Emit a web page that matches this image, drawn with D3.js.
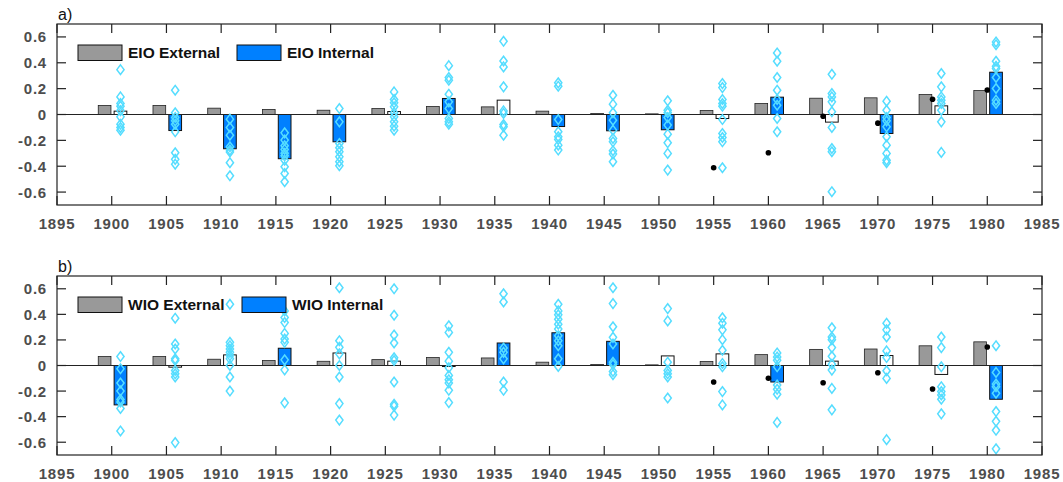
<!DOCTYPE html>
<html>
<head>
<meta charset="utf-8">
<script src="https://cdn.jsdelivr.net/npm/d3@7"></script>
<style>
  body { margin: 0; background: #fff; }
  svg { display: block; font-family: "Liberation Sans", Arial, sans-serif; }
</style>
</head>
<body>
<div id="chart"></div>
<script>
// Data
const years = [1900, 1905, 1910, 1915, 1920, 1925, 1930, 1935, 1940, 1945, 1950, 1955, 1960, 1965, 1970, 1975, 1980];
const obsYears = [1955, 1960, 1965, 1970, 1975, 1980];
const yTicks = [-0.6, -0.4, -0.2, 0, 0.2, 0.4, 0.6];
const xTicks = [1895, 1900, 1905, 1910, 1915, 1920, 1925, 1930, 1935, 1940, 1945, 1950, 1955, 1960, 1965, 1970, 1975, 1980, 1985];

// panel a) EIO
const eioExternal = [0.07, 0.07, 0.049, 0.039, 0.033, 0.046, 0.062, 0.059, 0.026, 0.008, 0.005, 0.031, 0.085, 0.126, 0.129, 0.154, 0.185];
const eioInternal = [0.026, -0.124, -0.265, -0.342, -0.211, 0.023, 0.124, 0.111, -0.093, -0.126, -0.118, -0.031, 0.134, -0.059, -0.147, 0.067, 0.327];
const eioSignificant = [false, true, true, true, true, false, true, false, true, true, true, false, true, false, true, false, true];
const eioObserved = [-0.412, -0.296, -0.013, -0.067, 0.118, 0.19];
const eioMembers = [
  [0.347, 0.136, 0.085, 0.064, 0.03, -0.018, -0.075, -0.1, -0.121],
  [0.188, 0.013, -0.023, -0.049, -0.075, -0.134, -0.296, -0.347, -0.384],
  [-0.036, -0.1, -0.16, -0.25, -0.275, -0.29, -0.373, -0.474],
  [-0.142, -0.198, -0.242, -0.27, -0.3, -0.32, -0.353, -0.404, -0.456, -0.52],
  [0.046, -0.057, -0.224, -0.257, -0.288, -0.327, -0.365, -0.396],
  [0.175, 0.116, 0.09, 0.059, 0.013, -0.018, -0.057, -0.09, -0.121],
  [0.378, 0.286, 0.265, 0.157, 0.098, 0.046, -0.031, -0.057, -0.075],
  [0.566, 0.414, 0.368, 0.214, 0.028, 0.008, -0.077, -0.095, -0.16],
  [0.245, 0.219, -0.039, -0.134, -0.172, -0.193, -0.237, -0.275],
  [0.149, 0.08, 0.013, -0.044, -0.121, -0.185, -0.211, -0.28, -0.306, -0.365],
  [0.106, 0.033, 0.013, -0.023, -0.082, -0.152, -0.219, -0.301, -0.43],
  [0.239, 0.208, 0.116, 0.085, 0.064, -0.039, -0.147, -0.178, -0.211, -0.412],
  [0.476, 0.412, 0.286, 0.188, 0.116, 0.072, -0.031, -0.134],
  [0.311, 0.162, 0.136, 0.098, 0.021, -0.1, -0.263, -0.288, -0.597],
  [0.103, 0.033, -0.023, -0.049, -0.095, -0.172, -0.237, -0.301, -0.353, -0.373],
  [0.317, 0.214, 0.136, 0.111, 0.085, 0.033, -0.057, -0.293],
  [0.561, 0.54, 0.412, 0.373, 0.355, 0.286, 0.201, 0.111, 0.085]
];

// panel b) WIO
const wioExternal = [0.07, 0.07, 0.049, 0.039, 0.033, 0.046, 0.062, 0.059, 0.026, 0.008, 0.005, 0.031, 0.085, 0.126, 0.129, 0.154, 0.185];
const wioInternal = [-0.308, -0.013, 0.083, 0.135, 0.098, 0.034, -0.008, 0.176, 0.256, 0.189, 0.075, 0.091, -0.129, 0.034, 0.078, -0.07, -0.264];
const wioSignificant = [true, false, false, true, false, false, false, true, true, true, false, false, true, false, false, false, true];
const wioObserved = [-0.129, -0.1, -0.135, -0.057, -0.184, 0.145];
const wioMembers = [
  [0.07, -0.026, -0.137, -0.2, -0.266, -0.285, -0.336, -0.512],
  [0.37, 0.168, 0.129, 0.052, 0.039, -0.039, -0.065, -0.09, -0.603],
  [0.479, 0.181, 0.155, 0.129, 0.103, 0.078, 0.052, 0, -0.09, -0.2],
  [0.427, 0.375, 0.336, 0.251, 0.207, 0.181, 0.044, -0.034, -0.292],
  [0.608, 0.194, 0.142, 0.091, 0, -0.09, -0.298, -0.427],
  [0.6, 0.393, 0.238, 0.176, 0.06, 0.039, -0.129, -0.303, -0.318, -0.388],
  [0.31, 0.259, 0.103, 0.034, -0.018, -0.078, -0.111, -0.137, -0.194, -0.29],
  [0.561, 0.497, 0.137, 0.103, 0.052, -0.129, -0.194],
  [0.479, 0.427, 0.396, 0.362, 0.323, 0.285, 0.233, 0.194, 0.155, 0.052, -0.008],
  [0.608, 0.484, 0.303, 0.22, 0.168, 0.026, 0.008, -0.047, -0.072],
  [0.445, 0.349, 0.026, -0.039, -0.065, -0.09, -0.254],
  [0.373, 0.331, 0.279, 0.202, 0.119, 0.016, -0.01, -0.204, -0.308],
  [0.098, 0.067, 0.041, -0.01, -0.153, -0.186, -0.225, -0.445],
  [0.295, 0.223, 0.202, 0.14, 0.072, 0.01, -0.036, -0.179, -0.347],
  [0.331, 0.279, 0.223, 0.114, 0.062, -0.041, -0.101, -0.58],
  [0.223, 0.14, -0.01, -0.166, -0.204, -0.23, -0.264, -0.378],
  [0.155, -0.054, -0.145, -0.166, -0.217, -0.36, -0.437, -0.507, -0.652]
];

(function () {
    const W = 1063, H = 482;
    const left = 57, right = 1042;

    const colors = {
        external: "#999999",
        internal: "#0080ff",
        member: "#55ddff",
        tickText: "#4d4d4d"
    };

    const svg = d3.select("#chart").append("svg")
        .attr("width", W)
        .attr("height", H);

    const x = d3.scaleLinear().domain([1895, 1985]).range([left, right]);
    const barW = 1.16; // in years

    function drawPanel(cfg) {
        const y = d3.scaleLinear().domain([-0.7, 0.7]).range([cfg.bottom, cfg.top]);
        const g = svg.append("g");

        // external bars (left of the tick)
        g.selectAll(".ext")
            .data(years.map((yr, i) => ({ yr, v: cfg.external[i] })))
            .enter().append("rect")
            .attr("x", d => x(d.yr - 0.65 - barW / 2))
            .attr("width", d => x(d.yr + barW) - x(d.yr))
            .attr("y", d => y(Math.max(0, d.v)))
            .attr("height", d => Math.abs(y(d.v) - y(0)))
            .attr("fill", colors.external)
            .attr("stroke", "#222")
            .attr("stroke-width", 0.8);

        // internal bars (right of the tick), white when not significant
        g.selectAll(".int")
            .data(years.map((yr, i) => ({ yr, v: cfg.internal[i], s: cfg.signif[i] })))
            .enter().append("rect")
            .attr("x", d => x(d.yr + 0.8 - barW / 2))
            .attr("width", d => x(d.yr + barW) - x(d.yr))
            .attr("y", d => y(Math.max(0, d.v)))
            .attr("height", d => Math.abs(y(d.v) - y(0)))
            .attr("fill", d => d.s ? colors.internal : "#fff")
            .attr("stroke", "#111")
            .attr("stroke-width", 1);

        // zero line
        g.append("line")
            .attr("x1", left).attr("x2", right)
            .attr("y1", y(0)).attr("y2", y(0))
            .attr("stroke", "#222")
            .attr("stroke-width", 1);

        // ensemble members as open diamonds
        const members = [];
        years.forEach((yr, i) => cfg.members[i].forEach(v => members.push({ yr, v })));
        g.selectAll(".mem")
            .data(members)
            .enter().append("path")
            .attr("d", "M0,-4.8L3.6,0L0,4.8L-3.6,0Z")
            .attr("transform", d => `translate(${x(d.yr + 0.8)},${y(d.v)})`)
            .attr("fill", "none")
            .attr("stroke", colors.member)
            .attr("stroke-width", 1.5);

        // observed values
        g.selectAll(".obs")
            .data(obsYears.map((yr, i) => ({ yr, v: cfg.observed[i] })))
            .enter().append("circle")
            .attr("cx", d => x(d.yr))
            .attr("cy", d => y(d.v))
            .attr("r", 2.8)
            .attr("fill", "#000");

        // axes box with inward ticks
        const tickLen = 9;
        const axisG = g.append("g").attr("stroke", "#222").attr("stroke-width", 1.2);
        axisG.append("rect")
            .attr("x", left).attr("y", cfg.top)
            .attr("width", right - left).attr("height", cfg.bottom - cfg.top)
            .attr("fill", "none");
        xTicks.forEach(t => {
            axisG.append("line").attr("x1", x(t)).attr("x2", x(t))
                .attr("y1", cfg.bottom).attr("y2", cfg.bottom - tickLen);
            axisG.append("line").attr("x1", x(t)).attr("x2", x(t))
                .attr("y1", cfg.top).attr("y2", cfg.top + tickLen);
        });
        yTicks.forEach(t => {
            axisG.append("line").attr("x1", left).attr("x2", left + tickLen)
                .attr("y1", y(t)).attr("y2", y(t));
            axisG.append("line").attr("x1", right).attr("x2", right - tickLen)
                .attr("y1", y(t)).attr("y2", y(t));
        });

        // tick labels
        g.selectAll(".xl")
            .data(xTicks)
            .enter().append("text")
            .attr("x", d => x(d))
            .attr("y", cfg.bottom + 23.5)
            .attr("text-anchor", "middle")
            .attr("font-size", "15px")
            .attr("font-weight", "bold")
            .attr("letter-spacing", "0.8px")
            .attr("fill", colors.tickText)
            .text(d => d);
        g.selectAll(".yl")
            .data(yTicks)
            .enter().append("text")
            .attr("x", left - 10)
            .attr("y", d => y(d) + 5.5)
            .attr("text-anchor", "end")
            .attr("font-size", "15px")
            .attr("font-weight", "bold")
            .attr("letter-spacing", "0.8px")
            .attr("fill", colors.tickText)
            .text(d => d3.format("")(d).replace("−", "-"));

        // panel label
        g.append("text")
            .attr("x", left + 1)
            .attr("y", cfg.top - 4)
            .attr("font-size", "16px")
            .attr("fill", "#111")
            .text(cfg.label);

        // legend (no frame)
        const ly = cfg.top + 21;
        const legend = [
            { name: cfg.names[0], color: colors.external, lx: 78 },
            { name: cfg.names[1], color: colors.internal, lx: cfg.legendX2 }
        ];
        legend.forEach(l => {
            g.append("rect")
                .attr("x", l.lx).attr("y", ly)
                .attr("width", 44).attr("height", 15.5)
                .attr("fill", l.color)
                .attr("stroke", "#111").attr("stroke-width", 1);
            g.append("text")
                .attr("x", l.lx + 50).attr("y", ly + 13)
                .attr("font-size", "15.5px")
                .attr("font-weight", "bold")
                .attr("fill", "#111")
                .text(l.name);
        });
    }

    drawPanel({
        top: 24, bottom: 205, label: "a)", legendX2: 237,
        external: eioExternal, internal: eioInternal, signif: eioSignificant,
        observed: eioObserved, members: eioMembers,
        names: ["EIO External", "EIO Internal"]
    });
    drawPanel({
        top: 276, bottom: 455, label: "b)", legendX2: 242,
        external: wioExternal, internal: wioInternal, signif: wioSignificant,
        observed: wioObserved, members: wioMembers,
        names: ["WIO External", "WIO Internal"]
    });
})();
</script>
</body>
</html>
